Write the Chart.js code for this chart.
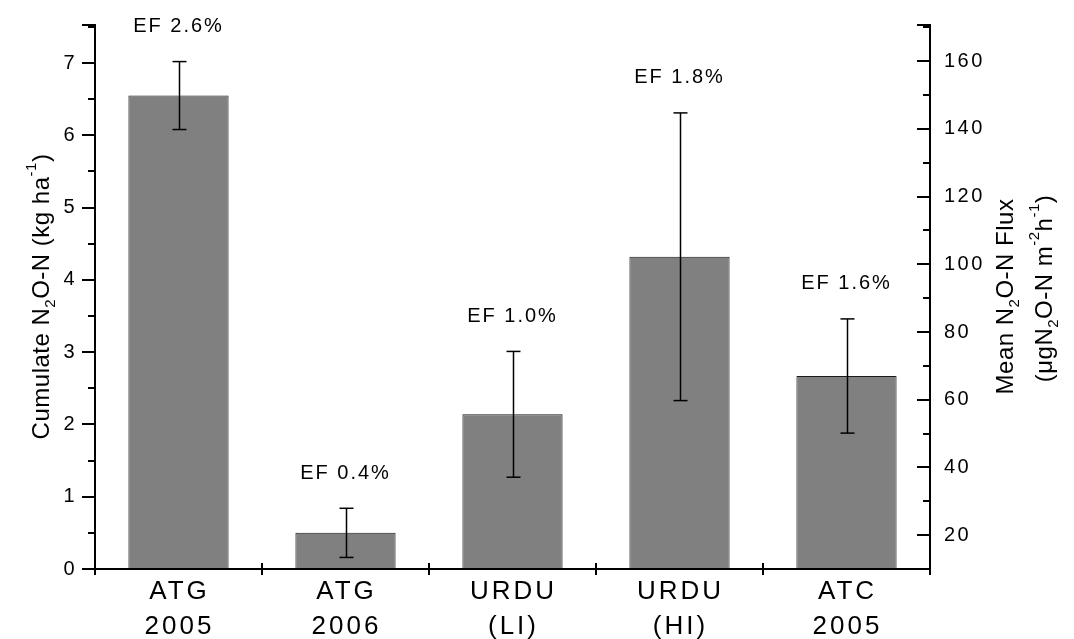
<!DOCTYPE html>
<html>
<head>
<meta charset="utf-8">
<script src="https://cdn.jsdelivr.net/npm/chart.js@4.4.0/dist/chart.umd.min.js"></script>
<style>
  html, body { margin: 0; padding: 0; background: #fff; }
  #wrap { width: 1074px; height: 639px; position: relative; }
</style>
</head>
<body>
<div id="wrap"><canvas id="c"></canvas></div>
<script>
// Sites / years
const categories = [['ATG', '2005'], ['ATG', '2006'], ['URDU', '(LI)'], ['URDU', '(HI)'], ['ATC', '2005']];
// Cumulative N2O-N emission (kg ha-1) and its error
const cumulative = [6.55, 0.50, 2.14, 4.32, 2.67];
const cumulativeErr = [0.47, 0.34, 0.87, 1.99, 0.79];
// Emission factors written over the bars
const efLabels = ['EF 2.6%', 'EF 0.4%', 'EF 1.0%', 'EF 1.8%', 'EF 1.6%'];
// Axis ticks
const leftTicks = [0, 1, 2, 3, 4, 5, 6, 7];
const rightTicks = [20, 40, 60, 80, 100, 120, 140, 160];

const FONT = '"Liberation Sans", Arial, sans-serif';
const NARROW = '"Liberation Sans Narrow", "Arial Narrow", "Liberation Sans", sans-serif';

// Draw a run of text pieces with sub/superscripts, centred at (x, y)
function richText(ctx, parts, x, y, size, spacing) {
  const small = Math.round(size * 0.62);
  ctx.save();
  ctx.textBaseline = 'middle';
  ctx.textAlign = 'left';
  ctx.letterSpacing = spacing + 'px';
  let total = 0;
  const widths = parts.map(([t, k]) => {
    ctx.font = (k === 'n' ? size : small) + 'px ' + FONT;
    const w = ctx.measureText(t).width;
    total += w;
    return w;
  });
  let cx = x - total / 2;
  parts.forEach(([t, k], i) => {
    ctx.font = (k === 'n' ? size : small) + 'px ' + FONT;
    let dy = 0;
    if (k === 'sub') dy = size * 0.38;
    if (k === 'sup') dy = -size * 0.42;
    ctx.fillText(t, cx, y + dy);
    cx += widths[i];
  });
  ctx.restore();
}

const decorations = {
  id: 'decorations',
  afterDraw(chart) {
    const { ctx, chartArea: a } = chart;
    const xs = chart.scales.x, yl = chart.scales.y, yr = chart.scales.y2;
    ctx.save();
    ctx.strokeStyle = '#000';
    ctx.fillStyle = '#000';
    ctx.lineWidth = 2;
    ctx.lineCap = 'butt';

    const line = (x1, y1, x2, y2) => { ctx.beginPath(); ctx.moveTo(x1, y1); ctx.lineTo(x2, y2); ctx.stroke(); };

    // axis lines
    line(a.left, a.top, a.left, a.bottom + 1);
    line(a.right, a.top, a.right, a.bottom + 1);
    line(a.left - 1, a.bottom, a.right + 1, a.bottom);

    // left axis ticks (outward)
    for (let v = 0; v <= 7.5; v += 0.5) {
      const y = Math.round(yl.getPixelForValue(v));
      const len = Number.isInteger(v) ? 13 : 7;
      line(a.left - len, y, a.left, y);
    }
    line(a.left - 13, a.top + 1, a.left, a.top + 1);

    // right axis ticks (inward)
    for (let v = 10; v <= 170; v += 10) {
      const y = Math.round(yr.getPixelForValue(v));
      const len = v % 20 === 0 ? 13 : 7;
      line(a.right - len, y, a.right, y);
    }
    line(a.right - 13, a.top + 1, a.right, a.top + 1);

    // category boundary ticks on x axis
    const step = xs.getPixelForValue(1) - xs.getPixelForValue(0);
    for (let i = 0; i <= categories.length; i++) {
      const x = Math.round(xs.getPixelForValue(i) - step / 2);
      line(x, a.bottom - 6, x, a.bottom + 6);
    }

    // error bars
    ctx.lineWidth = 1.5;
    cumulative.forEach((v, i) => {
      const x = Math.round(xs.getPixelForValue(i)) + 0.5;
      const yt = yl.getPixelForValue(v + cumulativeErr[i]);
      const yb = yl.getPixelForValue(v - cumulativeErr[i]);
      line(x, yt, x, yb);
      line(x - 7, yt, x + 7, yt);
      line(x - 7, yb, x + 7, yb);
    });

    // EF labels
    ctx.textAlign = 'center';
    ctx.textBaseline = 'middle';
    ctx.font = '20px ' + FONT;
    ctx.letterSpacing = '2px';
    efLabels.forEach((t, i) => {
      const x = xs.getPixelForValue(i);
      const y = yl.getPixelForValue(cumulative[i] + cumulativeErr[i]) - 35;
      ctx.fillText(t, x, y);
    });

    // tick labels
    ctx.font = '20px ' + FONT;
    ctx.letterSpacing = '2.5px';
    ctx.textAlign = 'right';
    leftTicks.forEach(v => ctx.fillText(String(v), a.left - 18, yl.getPixelForValue(v)));
    ctx.textAlign = 'left';
    rightTicks.forEach(v => ctx.fillText(String(v), a.right + 14, yr.getPixelForValue(v)));

    // category labels
    ctx.textAlign = 'center';
    ctx.font = '26px ' + NARROW;
    ctx.letterSpacing = '3px';
    categories.forEach((lines, i) => {
      const x = xs.getPixelForValue(i);
      lines.forEach((t, j) => ctx.fillText(t, x + 1, a.bottom + 23 + j * 35));
    });
    ctx.letterSpacing = '0px';

    // axis titles
    const mid = (a.top + a.bottom) / 2;
    ctx.save();
    ctx.translate(42, mid);
    ctx.rotate(-Math.PI / 2);
    richText(ctx, [['Cumulate N', 'n'], ['2', 'sub'], ['O-N (kg ha', 'n'], ['-1', 'sup'], [')', 'n']], 0, 0, 24, 0.5);
    ctx.restore();

    ctx.save();
    ctx.translate(1006, mid);
    ctx.rotate(-Math.PI / 2);
    richText(ctx, [['Mean N', 'n'], ['2', 'sub'], ['O-N Flux', 'n']], 0, 0, 24, 0.5);
    ctx.restore();

    ctx.save();
    ctx.translate(1045, mid - 8);
    ctx.rotate(-Math.PI / 2);
    richText(ctx, [['(\u03bcgN', 'n'], ['2', 'sub'], ['O-N m', 'n'], ['-2', 'sup'], ['h', 'n'], ['-1', 'sup'], [')', 'n']], 0, 0, 24, 0.5);
    ctx.restore();

    ctx.restore();
  }
};

new Chart(document.getElementById('c'), {
  type: 'bar',
  data: {
    labels: categories,
    datasets: [{
      data: cumulative,
      backgroundColor: '#808080',
      borderColor: '#1a1a1a',
      borderWidth: 1,
      barPercentage: 0.6,
      categoryPercentage: 1.0,
      yAxisID: 'y'
    }]
  },
  options: {
    responsive: true,
    maintainAspectRatio: false,
    animation: false,
    events: [],
    layout: { padding: { top: 24, left: 0, right: 0, bottom: 0 } },
    plugins: { legend: { display: false }, tooltip: { enabled: false } },
    scales: {
      x: {
        type: 'category',
        grid: { display: false },
        border: { display: false },
        ticks: { display: false },
        afterFit(s) { s.height = 70; }
      },
      y: {
        position: 'left',
        min: 0,
        max: 7.54,
        grid: { display: false },
        border: { display: false },
        ticks: { display: false },
        afterBuildTicks(s) { s.ticks = leftTicks.map(v => ({ value: v })); },
        afterFit(s) { s.width = 95; }
      },
      y2: {
        position: 'right',
        min: 10,
        max: 171,
        grid: { display: false },
        border: { display: false },
        ticks: { display: false },
        afterBuildTicks(s) { s.ticks = rightTicks.map(v => ({ value: v })); },
        afterFit(s) { s.width = 144; }
      }
    }
  },
  plugins: [decorations]
});
</script>
</body>
</html>
